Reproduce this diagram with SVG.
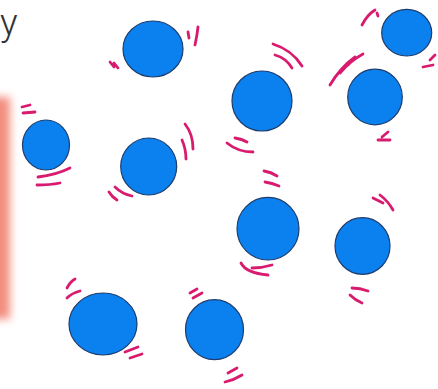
<svg xmlns="http://www.w3.org/2000/svg" width="438" height="389" viewBox="0 0 438 389">
<defs>
<filter id="glow" x="-100%" y="-20%" width="300%" height="140%"><feGaussianBlur stdDeviation="4"/></filter>
</defs>
<style>
.p{fill:#0b80ef;stroke:#1d3d6e;stroke-width:1.2}
.m{fill:none;stroke:#d81b6e;stroke-width:2.8;stroke-linecap:round}
.t{font-family:Roboto,"Open Sans","Liberation Sans",sans-serif;font-weight:300;font-size:37px;fill:#333}
</style>
<rect width="438" height="389" fill="#fff"/>
<rect x="-10" y="97" width="20" height="222" fill="#f07a68" opacity="0.85" filter="url(#glow)"/>
<text class="t" x="0" y="35">y</text>
<g id="particle-1">
<ellipse class="p" cx="153" cy="49" rx="30" ry="28"/>
<path class="m" d="M110 62 L114 67 M114 63 L118 68 M188 32 L189 38 M198 27 Q197 36 195 45"/>
</g>
<g id="particle-2">
<circle class="p" cx="262" cy="101" r="30"/>
<path class="m" d="M273 44 Q292 50 302 66 M275 55 Q286 58 292 68 M227 143 Q238 152 253 152 M235 138 Q242 139 247 142"/>
</g>
<g id="particle-3">
<ellipse class="p" cx="148.7" cy="166.5" rx="28" ry="28.5"/>
<path class="m" d="M185 124 Q193 134 193 149 M182 140 Q186 149 186 159 M109 192 Q112 197 117 200 M115 187 Q122 194 132 196"/>
</g>
<g id="particle-4">
<ellipse class="p" cx="46" cy="145" rx="23.5" ry="25"/>
<path class="m" d="M22 107 L30 105 M23 113 L35 112 M38 177 Q56 175 70 168 M37 185 Q50 185 60 183"/>
</g>
<g id="particle-5">
<ellipse class="p" cx="406.7" cy="32.7" rx="25" ry="23.3"/>
<path class="m" d="M362 25 Q367 15 375 10 M377 13 L378 16 M423 67 L433 65 M430 60 L435 55"/>
</g>
<g id="particle-6">
<ellipse class="p" cx="375" cy="97" rx="27.3" ry="27.8"/>
<path class="m" d="M330 85 Q340 68 355 57 M340 73 Q350 61 363 54 M348 65 L355 58 M378 140 L390 140 M382 137 L388 132"/>
</g>
<g id="particle-7">
<ellipse class="p" cx="268" cy="228.7" rx="31" ry="31.3"/>
<path class="m" d="M264 171 Q271 172 277 176 M265 182 Q272 183 279 186 M241 263 Q246 273 268 275 M252 268 Q262 268 272 265"/>
</g>
<g id="particle-8">
<ellipse class="p" cx="362.5" cy="246" rx="27.5" ry="28.3"/>
<path class="m" d="M373 198 L383 203 M380 195 Q388 201 393 210 M352 288 Q360 288 368 291 M350 295 Q355 300 362 303"/>
</g>
<g id="particle-9">
<ellipse class="p" cx="103" cy="324" rx="34" ry="31"/>
<path class="m" d="M67 288 Q70 282 75 279 M67 298 Q72 293 80 291 M125 352 L138 347 M130 358 L142 354"/>
</g>
<g id="particle-10">
<ellipse class="p" cx="214.5" cy="329.7" rx="29" ry="30"/>
<path class="m" d="M190 293 L197 289 M193 298 L202 293 M228 373 L237 368 M225 382 Q234 380 242 375"/>
</g>
<g id="connectors"/>
</svg>
